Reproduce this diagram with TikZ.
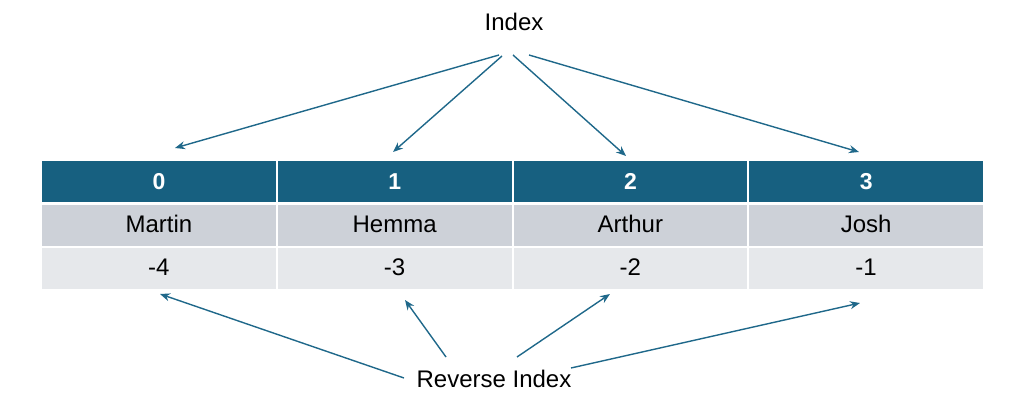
\documentclass[tikz,border=0pt]{standalone}
\usepackage{fontspec}
\setmainfont{Liberation Sans}
\usetikzlibrary{arrows.meta}
\definecolor{hdblue}{RGB}{23,96,128}
\definecolor{rowgray}{RGB}{205,209,216}
\definecolor{rowlight}{RGB}{230,232,235}
\definecolor{arrowblue}{RGB}{31,104,138}
\begin{document}
\begin{tikzpicture}[x=1pt, y=-1pt, >={Stealth[length=10pt,width=8pt]},
    cell/.style={rectangle, minimum width=233.75pt, minimum height=41pt, inner sep=0pt, text height=17pt, text depth=3pt, font=\fontsize{24}{28}\selectfont},
    hdcell/.style={cell, fill=hdblue, text=white, text height=16pt, text depth=0pt, font=\fontsize{23}{27}\selectfont\bfseries},
    label/.style={font=\fontsize{24}{28}\selectfont, inner sep=0pt},
    link/.style={->, draw=arrowblue, line width=1.4pt}]
    \useasboundingbox (0,0) rectangle (1022,406);

    % table of names, one column per entry
    \foreach \name/\rev [count=\i from 0] in {Martin/-4,Hemma/-3,Arthur/-2,Josh/-1}{
        \node[hdcell] (h\i) at (158.9+235.75*\i,181.5) {\i};
        \node[cell, fill=rowgray] (n\i) at (158.9+235.75*\i,225.5) {\name};
        \node[cell, fill=rowlight] (r\i) at (158.9+235.75*\i,268) {\rev};
    }

    \node[label] (idx) at (514,22) {Index};
    \node[label] (rev) at (494,379) {Reverse Index};

    % arrow ends
    \coordinate (s0) at (499,55);  \coordinate (t0) at (175,148);
    \coordinate (s1) at (502,56);  \coordinate (t1) at (393,152);
    \coordinate (s2) at (513,55);  \coordinate (t2) at (626,156);
    \coordinate (s3) at (529,55);  \coordinate (t3) at (859,152);
    \coordinate (u0) at (404,378); \coordinate (b0) at (160,294);
    \coordinate (u1) at (446,357); \coordinate (b1) at (405,300);
    \coordinate (u2) at (517,357); \coordinate (b2) at (610,294);
    \coordinate (u3) at (571,368); \coordinate (b3) at (860,303);

    \foreach \k in {0,...,3}{
        \draw[link] (s\k) -- (t\k);
        \draw[link] (u\k) -- (b\k);
    }
\end{tikzpicture}
\end{document}
